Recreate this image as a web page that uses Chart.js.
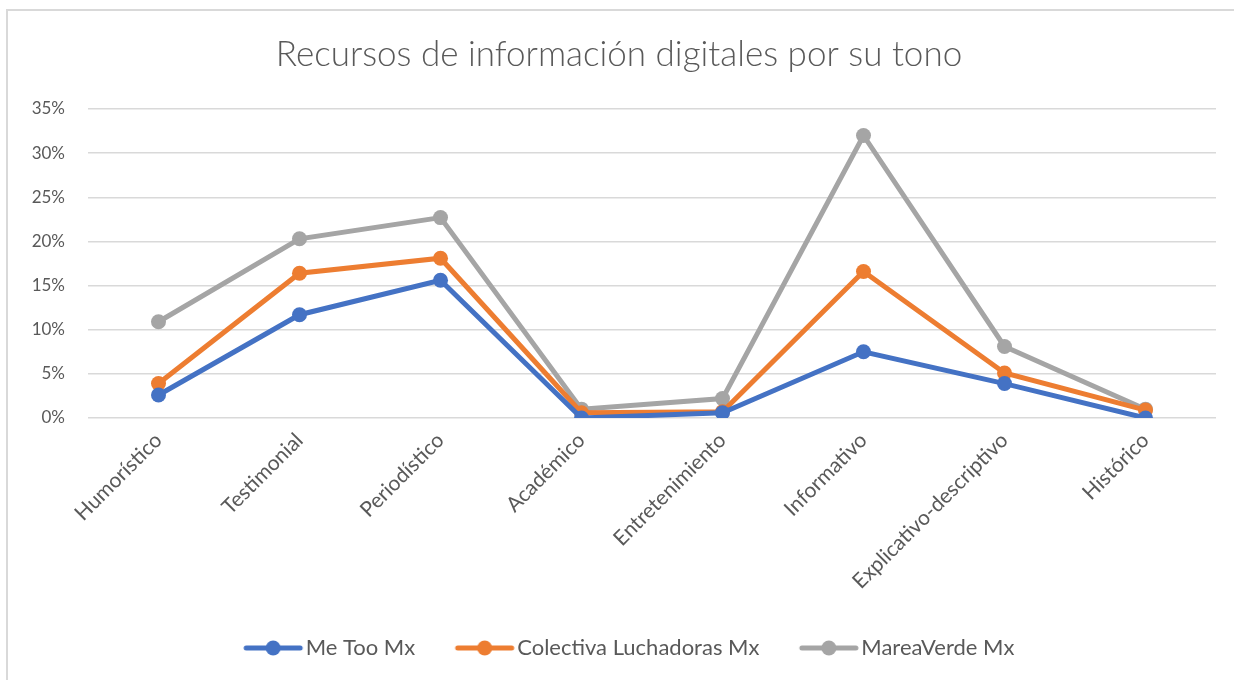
<!DOCTYPE html>
<html>
<head>
<meta charset="utf-8">
<script src="https://cdn.jsdelivr.net/npm/chart.js@4"></script>
<style>
  html, body { margin: 0; padding: 0; background: #fff; }
  #wrap { position: relative; width: 1234px; height: 680px; overflow: hidden; }
  #marco { position: absolute; left: 6px; top: 9px; width: 1240px; height: 690px; border: 2px solid #d9d9d9; box-sizing: border-box; pointer-events: none; }
</style>
</head>
<body>
<div id="wrap">
  <canvas id="grafico" width="1234" height="680"></canvas>
  <div id="marco"></div>
</div>
<script>
// Datos
const categorias = ['Humorístico', 'Testimonial', 'Periodístico', 'Académico', 'Entretenimiento', 'Informativo', 'Explicativo-descriptivo', 'Histórico'];
const meToo = [0.026, 0.117, 0.156, 0.000, 0.006, 0.075, 0.039, 0.000];
const luchadoras = [0.039, 0.164, 0.181, 0.006, 0.007, 0.166, 0.051, 0.009];
const mareaVerde = [0.109, 0.203, 0.227, 0.010, 0.022, 0.320, 0.081, 0.010];
const nombresSeries = ['Me Too Mx', 'Colectiva Luchadoras Mx', 'MareaVerde Mx'];
const colores = ['#4472C4', '#ED7D31', '#A5A5A5'];

const fuente = 'Lato, "Open Sans", sans-serif';
const gris = '#595959';

// Icono de leyenda: línea con círculo (con margen a la izquierda para separar los elementos)
function iconoLeyenda(color) {
  const c = document.createElement('canvas');
  c.width = 160; c.height = 18;
  const g = c.getContext('2d');
  g.strokeStyle = color;
  g.lineWidth = 5;
  g.lineCap = 'round';
  g.beginPath(); g.moveTo(67, 9); g.lineTo(121, 9); g.stroke();
  g.fillStyle = color;
  g.beginPath(); g.arc(94, 9, 7.5, 0, Math.PI * 2); g.fill();
  return c;
}

function serie(i, datos) {
  return {
    label: nombresSeries[i],
    data: datos,
    borderColor: colores[i],
    backgroundColor: colores[i],
    borderWidth: 5,
    pointRadius: 7.5,
    pointHoverRadius: 7.5,
    pointBorderWidth: 0,
    tension: 0,
    pointStyle: 'circle'
  };
}

const iconos = colores.map(iconoLeyenda);

new Chart(document.getElementById('grafico'), {
  type: 'line',
  data: {
    labels: categorias,
    datasets: [serie(0, meToo), serie(1, luchadoras), serie(2, mareaVerde)]
  },
  options: {
    responsive: false,
    animation: false,
    layout: { padding: { left: 22, right: 18, top: 20, bottom: 11 } },
    plugins: {
      title: {
        display: true,
        text: 'Recursos de información digitales por su tono',
        color: gris,
        font: { family: fuente, size: 35, weight: '300' },
        padding: { top: 14, bottom: 33 }
      },
      legend: {
        position: 'bottom',
        labels: {
          color: gris,
          font: { family: fuente, size: 22 },
          usePointStyle: true,
          pointStyleWidth: 71,
          boxHeight: 16,
          padding: 20,
          generateLabels: (chart) => chart.data.datasets.map((d, i) => ({
            text: d.label,
            pointStyle: iconos[i],
            fillStyle: colores[i],
            strokeStyle: colores[i],
            lineWidth: 0,
            hidden: false,
            datasetIndex: i,
            fontColor: gris
          }))
        }
      },
      tooltip: { enabled: false }
    },
    scales: {
      x: {
        offset: true,
        grid: { display: false },
        border: { display: false },
        afterFit: (s) => { s.height = 199; },
        ticks: {
          color: gris,
          font: { family: fuente, size: 21 },
          minRotation: 45,
          maxRotation: 45,
          padding: 2
        }
      },
      y: {
        min: 0,
        max: 0.35,
        grid: { color: '#d9d9d9', lineWidth: 1.5, drawTicks: false },
        border: { display: false },
        afterFit: (s) => { s.width = 66; },
        ticks: {
          stepSize: 0.05,
          color: gris,
          font: { family: fuente, size: 17 },
          padding: 23,
          callback: (v) => Math.round(v * 100) + '%'
        }
      }
    }
  }
});
</script>
</body>
</html>
